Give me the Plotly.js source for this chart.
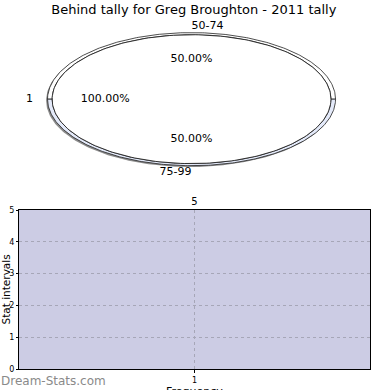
<!DOCTYPE html>
<html>
<head>
<meta charset="utf-8">
<script src="https://cdn.plot.ly/plotly-3.0.1.min.js"></script>
<style>html,body{margin:0;padding:0;background:#fff;}#chart{width:390px;height:390px;}</style>
</head>
<body>
<div id="chart"></div>
<script>
// ---- data ----
const chartTitle = "Behind tally for Greg Broughton - 2011 tally";
const innerLabels = ["1"];
const innerValues = [1];
const outerLabels = ["50-74", "75-99"];
const outerValues = [1, 1];
const barCategories = [1];
const barValues = [5];
const yTickVals = [0, 1, 2, 3, 4, 5];
const xTitle = "Frequency";
const yTitle = "Stat intervals";
const watermark = "Dream-Stats.com";

// ---- pie (elliptical, drawn on cartesian axes) ----
const font = "DejaVu Sans, Liberation Sans, sans-serif";
const edge = "#222";
const outerFill = ["#ffffff", "#e4eafa"];
const innerFill = ["#ffffff"];
const R_IN = 0.968, R_RING0 = 0.968, R_RING1 = 1.0;

function arc(r, a0, a1, n, dx, dy) {
  const xs = [], ys = [];
  for (let i = 0; i <= n; i++) {
    const a = (a0 + (a1 - a0) * i / n) * Math.PI / 180;
    xs.push(r * Math.cos(a) + (dx || 0));
    ys.push(r * Math.sin(a) + (dy || 0));
  }
  return [xs, ys];
}
function wedge(r, a0, a1, full) {
  const [xs, ys] = arc(r, a0, a1, 240);
  if (!full) { xs.unshift(0); ys.unshift(0); xs.push(0); ys.push(0); }
  else { xs.push(xs[0]); ys.push(ys[0]); }
  return [xs, ys];
}
function ring(r0, r1, a0, a1) {
  const [ox, oy] = arc(r1, a0, a1, 240);
  const [ix, iy] = arc(r0, a1, a0, 240);
  const xs = ox.concat(ix), ys = oy.concat(iy);
  xs.push(xs[0]); ys.push(ys[0]);
  return [xs, ys];
}
function angles(vals) {
  const tot = vals.reduce((s, v) => s + v, 0);
  let a = 0;
  return vals.map(v => { const a0 = a; a += 360 * v / tot; return [a0, a, v / tot]; });
}

const traces = [];
// shadow
{
  const [sx, sy] = arc(R_RING1, 0, 360, 300, -0.010, -0.02);
  traces.push({type: "scatter", mode: "lines", x: sx, y: sy, fill: "toself",
    fillcolor: "rgba(0,0,0,0.45)", line: {width: 0}, hoverinfo: "skip",
    xaxis: "x2", yaxis: "y2", showlegend: false});
}
// outer ring slices
const outerAng = angles(outerValues);
outerAng.forEach(([a0, a1], i) => {
  const [xs, ys] = ring(R_RING0, R_RING1, a0, a1);
  traces.push({type: "scatter", mode: "lines", x: xs, y: ys, fill: "toself",
    fillcolor: outerFill[i], line: {color: edge, width: 0.8}, hoverinfo: "skip",
    xaxis: "x2", yaxis: "y2", showlegend: false});
});
// inner pie slices
const innerAng = angles(innerValues);
innerAng.forEach(([a0, a1], i) => {
  const full = (a1 - a0) >= 359.999;
  const [xs, ys] = wedge(R_IN, a0, a1, full);
  traces.push({type: "scatter", mode: "lines", x: xs, y: ys, fill: "toself",
    fillcolor: innerFill[i], line: {color: edge, width: 0.9}, hoverinfo: "skip",
    xaxis: "x2", yaxis: "y2", showlegend: false});
});
// labels
function addLabels(angs, labels, labelR, pctR) {
  angs.forEach(([a0, a1, frac], i) => {
    const m = (a0 + a1) / 2 * Math.PI / 180;
    const lx = labelR * Math.cos(m), ly = labelR * Math.sin(m);
    traces.push({type: "scatter", mode: "text", x: [lx], y: [ly], text: [labels[i]],
      textposition: lx > 0 ? "middle right" : "middle left",
      textfont: {family: font, size: 11, color: "#000"}, hoverinfo: "skip",
      xaxis: "x2", yaxis: "y2", showlegend: false, cliponaxis: false});
    traces.push({type: "scatter", mode: "text",
      x: [pctR * Math.cos(m)], y: [pctR * Math.sin(m)],
      text: [(frac * 100).toFixed(2) + "%"], textposition: "middle center",
      textfont: {family: font, size: 11, color: "#000"}, hoverinfo: "skip",
      xaxis: "x2", yaxis: "y2", showlegend: false, cliponaxis: false});
  });
}
addLabels(innerAng, innerLabels, 1.1, 0.6);
addLabels(outerAng, outerLabels, 1.1, 0.6);

// ---- bar ----
traces.push({type: "bar", x: barCategories, y: barValues, width: 1,
  marker: {color: "rgba(204,204,228,0.25)", line: {width: 0}},
  text: barValues.map(String), textposition: "outside", cliponaxis: false,
  textfont: {family: font, size: 10, color: "#000"},
  xaxis: "x", yaxis: "y", showlegend: false, hoverinfo: "skip"});

const layout = {
  width: 390, height: 390,
  margin: {l: 0, r: 0, t: 0, b: 0},
  paper_bgcolor: "#fff",
  plot_bgcolor: "rgba(0,0,0,0)",
  showlegend: false,
  title: {text: chartTitle, font: {family: font, size: 13, color: "#000"},
    x: 0.497, xanchor: "center", y: 0.976, yanchor: "middle"},
  xaxis2: {domain: [0, 1], range: [-1.330, 1.378], visible: false, fixedrange: true},
  yaxis2: {domain: [0.5, 1], range: [-1.44, 1.49], visible: false, fixedrange: true},
  xaxis: {domain: [19/390, 370/390], anchor: "y", range: [0.5, 1.5],
    tickmode: "array", tickvals: barCategories, ticktext: barCategories.map(String),
    showticklabels: true,
    ticks: "outside", ticklen: 3, tickcolor: "#000",
    showline: true, linecolor: "#000", linewidth: 1, mirror: true,
    showgrid: true, gridcolor: "#9a9aa8", griddash: "dot", gridwidth: 1,
    zeroline: false,
    tickfont: {family: font, size: 8, color: "#000"}},
  yaxis: {domain: [21/390, 180/390], anchor: "x", range: [0, 5],
    tickvals: yTickVals, ticks: "outside", ticklen: 2, tickcolor: "#000",
    showline: true, linecolor: "#000", linewidth: 1, mirror: true,
    showgrid: true, gridcolor: "#9a9aa8", griddash: "dot", gridwidth: 1,
    zeroline: false,
    tickfont: {family: font, size: 8, color: "#000"}},
  shapes: [{type: "rect", xref: "x domain", yref: "y domain", x0: 0, x1: 1, y0: 0, y1: 1,
    fillcolor: "#cccce4", line: {width: 0}, layer: "below"}],
  annotations: [
    {text: xTitle, xref: "paper", yref: "paper", x: 194/390, y: -10/390,
      xanchor: "center", yanchor: "bottom", showarrow: false,
      font: {family: font, size: 11, color: "#000"}},
    {text: yTitle, xref: "paper", yref: "paper", x: 5.5/390, y: 100/390,
      xanchor: "center", yanchor: "middle", textangle: -90, showarrow: false,
      font: {family: font, size: 10.5, color: "#000"}},
    {text: watermark, xref: "paper", yref: "paper",
      x: -1/390, y: 9/390, xanchor: "left", yanchor: "middle", showarrow: false,
      font: {family: font, size: 12, color: "#8a8a8a"}}]
};

Plotly.newPlot("chart", traces, layout, {staticPlot: true, displayModeBar: false});
</script>
</body>
</html>
